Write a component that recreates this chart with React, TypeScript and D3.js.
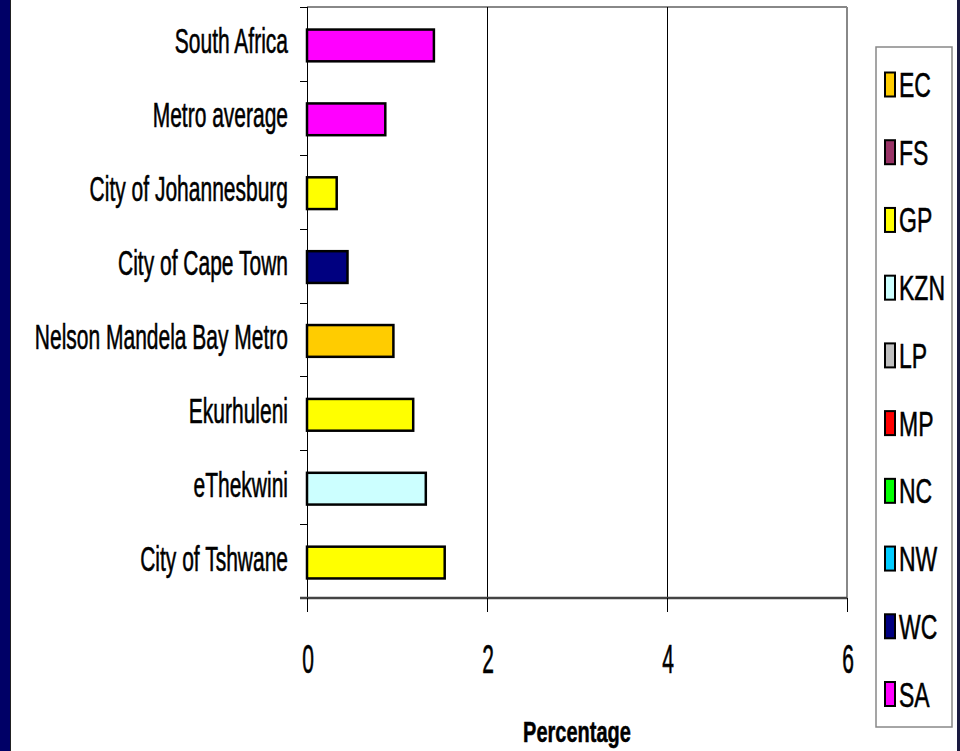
import React from "react";
import * as d3 from "d3";

// Metro categories, top to bottom
const categories = [
  "South Africa",
  "Metro average",
  "City of Johannesburg",
  "City of Cape Town",
  "Nelson Mandela Bay Metro",
  "Ekurhuleni",
  "eThekwini",
  "City of Tshwane",
];
const values = [1.41, 0.87, 0.33, 0.45, 0.96, 1.18, 1.32, 1.53];
const provinceOf = ["SA", "SA", "GP", "WC", "EC", "GP", "KZN", "GP"];

const legendKeys = ["EC", "FS", "GP", "KZN", "LP", "MP", "NC", "NW", "WC", "SA"];
const legendColors = [
  "#FFCC00",
  "#993366",
  "#FFFF00",
  "#CCFFFF",
  "#C0C0C0",
  "#FF0000",
  "#00FF00",
  "#00CCFF",
  "#000080",
  "#FF00FF",
];
const xTicks = [0, 2, 4, 6];

const W = 960;
const H = 751;
const FONT = "'Liberation Sans', Arial, sans-serif";

// Text drawn in a tall, narrow style
function Tall({
  x,
  y,
  size,
  sy,
  anchor = "start",
  bold = false,
  children,
}: {
  x: number;
  y: number;
  size: number;
  sy: number;
  anchor?: string;
  bold?: boolean;
  children: React.ReactNode;
}) {
  return (
    <text
      transform={`translate(${x},${y}) scale(1,${sy})`}
      fontSize={size}
      fontFamily={FONT}
      fontWeight={bold ? "bold" : "normal"}
      textAnchor={anchor as any}
      fill="#000"
      stroke="#000"
      strokeWidth={0.35}
    >
      {children}
    </text>
  );
}

export default function App() {
  const left = 307;
  const right = 847;
  const top = 7;
  const bottom = 598;

  const color = d3.scaleOrdinal<string, string>().domain(legendKeys).range(legendColors);
  const x = d3.scaleLinear().domain([0, 6]).range([left, right]);
  const y = d3.scaleBand<string>().domain(categories).range([top, bottom]).paddingInner(0.57).paddingOuter(0.285);
  const band = d3.scaleBand<string>().domain(categories).range([top, bottom]);

  const legendY = d3.scalePoint<string>().domain(legendKeys).range([84.5, 694]);

  const boundaries = d3.range(categories.length + 1).map((i) => Math.round(top + i * band.step()) + 0.5);

  return (
    <svg
      width={W}
      height={H}
      style={{ position: "fixed", left: 0, top: 0, background: "#fff" }}
    >
      <rect x={0} y={0} width={W} height={H} fill="#fff" />
      {/* frame edges */}
      <rect x={0} y={0} width={10} height={H} fill="#000066" />
      <rect x={10} y={0} width={1} height={H} fill="#222" />
      <rect x={957} y={0} width={3} height={H} fill="#1a1a40" />

      {/* plot border */}
      <line x1={left} x2={right} y1={top} y2={top} stroke="#888" strokeWidth={2} />
      <line x1={right} x2={right} y1={top} y2={bottom} stroke="#888" strokeWidth={2} />

      {/* gridlines */}
      {xTicks
        .filter((t) => t > 0 && t < 6)
        .map((t) => (
          <line key={t} x1={x(t) + 0.5} x2={x(t) + 0.5} y1={top} y2={bottom} stroke="#000" strokeWidth={1} />
        ))}

      {/* bars */}
      {categories.map((c, i) => (
        <rect
          key={c}
          x={x(0)}
          y={(y(c) as number) + 1.5}
          width={x(values[i]) - x(0)}
          height={y.bandwidth()}
          fill={color(provinceOf[i])}
          stroke="#000"
          strokeWidth={2.5}
        />
      ))}

      {/* y axis */}
      <line x1={left + 0.5} x2={left + 0.5} y1={top} y2={bottom + 14} stroke="#000" strokeWidth={1} />
      {boundaries.map((b, i) => (
        <line key={i} x1={left - 7} x2={left} y1={b} y2={b} stroke="#000" strokeWidth={1} />
      ))}
      {categories.map((c) => (
        <Tall key={c} x={288} y={(band(c) as number) + band.bandwidth() / 2 + 9.5} size={21} sy={1.66} anchor="end">
          {c}
        </Tall>
      ))}

      {/* x axis */}
      <line x1={left - 7} x2={right} y1={bottom} y2={bottom} stroke="#444" strokeWidth={2.5} />
      {xTicks.map((t) => (
        <line key={t} x1={x(t) + 0.5} x2={x(t) + 0.5} y1={bottom} y2={bottom + 14} stroke="#000" strokeWidth={1} />
      ))}
      {xTicks.map((t) => (
        <Tall key={t} x={x(t) + 1} y={673} size={21} sy={1.9} anchor="middle">
          {String(t)}
        </Tall>
      ))}
      <Tall x={(left + right) / 2} y={742} size={20} sy={1.5} anchor="middle" bold>
        Percentage
      </Tall>

      {/* legend */}
      <rect x={876} y={47} width={76} height={680} fill="#fff" stroke="#888" strokeWidth={1.5} />
      {legendKeys.map((k) => {
        const cy = legendY(k) as number;
        return (
          <g key={k}>
            <rect x={885} y={cy - 12} width={10} height={24} fill={color(k)} stroke="#000" strokeWidth={2} />
            <Tall x={899} y={cy + 12.5} size={23} sy={1.55}>
              {k}
            </Tall>
          </g>
        );
      })}
    </svg>
  );
}
